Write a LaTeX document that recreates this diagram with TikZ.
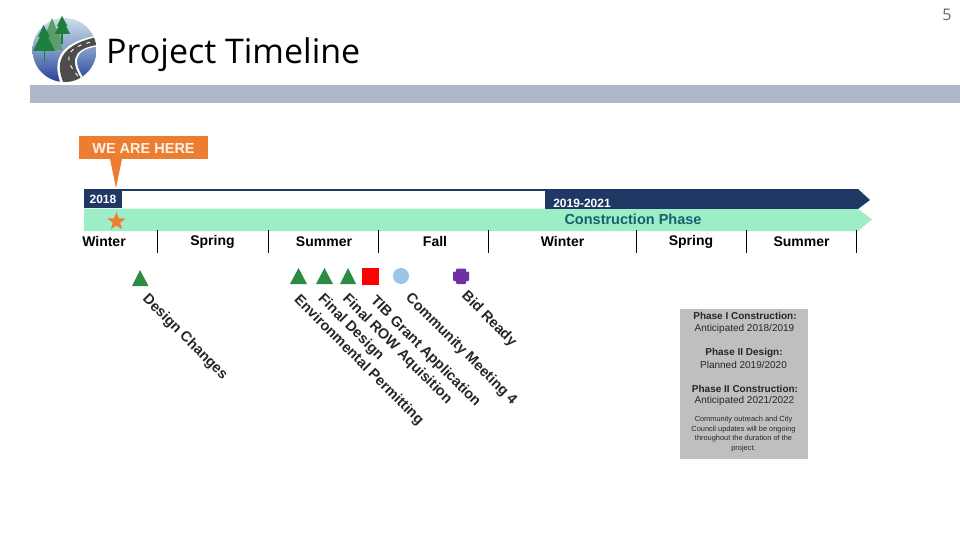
\documentclass[tikz,border=0pt]{standalone}
\usepackage{fontspec}
\setmainfont{Liberation Sans}
\newfontfamily\titlefont{Open Sans}
\usetikzlibrary{shapes.geometric}
\definecolor{band}{HTML}{ADB9CA}
\definecolor{navy}{HTML}{1F3864}
\definecolor{mint}{HTML}{9DEDC6}
\definecolor{orng}{HTML}{ED7D31}
\definecolor{grn}{HTML}{2E8B45}
\definecolor{teal}{HTML}{1B5E70}
\definecolor{ltblue}{HTML}{9DC3E6}
\definecolor{purp}{HTML}{7030A0}
\definecolor{panel}{HTML}{BFBFBF}
\definecolor{treedark}{HTML}{1E7F3C}
\definecolor{treelight}{HTML}{5E9C6A}
\definecolor{skytop}{HTML}{CFDFEA}
\definecolor{skymid}{HTML}{7F9BC6}
\definecolor{skybot}{HTML}{24409A}
\tikzset{
  season/.style={font=\bfseries\fontsize{14}{15}\selectfont,text=black,inner sep=0pt,anchor=center},
  tick/.style={draw=black,line width=1pt},
  mile/.style={font=\bfseries\fontsize{14.5}{15}\selectfont,text=black!85,rotate=-45,anchor=north west,inner sep=0pt},
  tri/.style={fill=grn,draw=none},
  ph/.style={font=\fontsize{10}{11}\selectfont,text=black!85,align=center,inner sep=0pt},
  phb/.style={font=\bfseries\fontsize{10}{11}\selectfont,text=black!85,align=center,inner sep=0pt},
  tree/.style={fill=#1,draw=none}
}
\begin{document}
\begin{tikzpicture}[x=1pt,y=-1pt]
\useasboundingbox (0,0) rectangle (960,540);
% logo
\begin{scope}
\clip (64.5,50) circle (32);
\shade[top color=skytop,bottom color=skybot,middle color=skymid] (32,18) rectangle (97,82);
\fill[white] (61,84) .. controls (54,66) and (53,44) .. (97,35.5) -- (97,46.5) .. controls (72,50) and (72,64) .. (88,84) -- cycle;
\fill[black!70] (64,84) .. controls (56,66) and (56,46) .. (97,37) -- (97,45) .. controls (70,49) and (70,64) .. (85,84) -- cycle;
\draw[white,line width=0.9pt,dash pattern=on 4pt off 5pt] (78,76) .. controls (62,58) and (66,46) .. (97,41);
\end{scope}
\fill[tree=treelight] (52,18) -- (46,33) -- (48,33) -- (43,50) -- (62,50) -- (60,33) -- (58,33) -- cycle;
\fill[tree=treedark] (61,30) rectangle (62.5,44);
\fill[tree=treedark] (62,16) -- (57,26) -- (58.5,26) -- (55,34) -- (70,34) -- (66,26) -- (67.5,26) -- cycle;
\fill[tree=treedark] (43.5,48) rectangle (45,62);
\fill[tree=treedark] (43.5,25) -- (38,37) -- (40,37) -- (33,51) -- (55,51) -- (48,37) -- (50,37) -- cycle;
% header
\node[font=\titlefont\fontsize{34}{34}\selectfont,anchor=west,inner sep=0pt,text=black] (title) at (106,55) {Project Timeline};
\node[font=\titlefont\fontsize{16}{16}\selectfont,text=black!60,inner sep=0pt] (pagenum) at (947,15) {5};
\fill[band] (30,85) rectangle (960,103);
% callout
\fill[orng] (79,136) rectangle (208,159);
\fill[orng] (110,159) -- (122,159) -- (116,188) -- cycle;
\node[font=\bfseries\fontsize{14.5}{15}\selectfont,text=white!90!orng,inner sep=0pt] (here) at (143.5,148.5) {WE ARE HERE};
% timeline bars
\fill[navy] (84,189) rectangle (545,191);
\fill[navy] (84,189) rectangle (122,208);
\fill[navy] (545,189) -- (858,189) -- (870,200) -- (858,209) -- (545,209) -- cycle;
\fill[mint] (84,208.5) -- (545,208.5) -- (545,209) -- (858,209) -- (872,219.5) -- (858,231) -- (84,231) -- cycle;
\node[font=\bfseries\fontsize{12}{12}\selectfont,text=white,inner sep=0pt] (y2018) at (103,199.5) {2018};
\node[font=\bfseries\fontsize{12}{12}\selectfont,text=white,inner sep=0pt] (y2019) at (582,203) {2019-2021};
\node[font=\bfseries\fontsize{14.5}{15}\selectfont,text=teal,inner sep=0pt] (phase) at (633,219.5) {Construction Phase};
\node[star,star points=5,star point ratio=2.4,fill=orng,minimum size=19pt,inner sep=0pt] (star) at (116.5,221.5) {};
% seasons
\draw[tick] (157.5,230) -- (157.5,253);
\draw[tick] (268,230) -- (268,253);
\draw[tick] (378.5,230) -- (378.5,253);
\draw[tick] (488.5,230) -- (488.5,253);
\draw[tick] (636,230) -- (636,253);
\draw[tick] (746,230) -- (746,253);
\draw[tick] (856.5,230) -- (856.5,253);
\node[season] (s1) at (104,241.5) {Winter};
\node[season] (s2) at (212.5,241.5) {Spring};
\node[season] (s3) at (324,241.5) {Summer};
\node[season] (s4) at (435,241.5) {Fall};
\node[season] (s5) at (562.5,241.5) {Winter};
\node[season] (s6) at (691,241.5) {Spring};
\node[season] (s7) at (801.5,241.5) {Summer};
% markers
\fill[tri] (140,270) -- (148.5,286) -- (132,286) -- cycle;
\fill[tri] (298.5,268) -- (307,284) -- (290,284) -- cycle;
\fill[tri] (324.5,268) -- (333,284) -- (316,284) -- cycle;
\fill[tri] (348,268) -- (356,284) -- (340,284) -- cycle;
\node[fill=red,minimum size=17pt,inner sep=0pt] (tib) at (370.5,276.5) {};
\node[circle,fill=ltblue,minimum size=16pt,inner sep=0pt] (comm) at (401,276) {};
\fill[purp,rounded corners=1pt] (456,268.5) rectangle (466,284);
\fill[purp,rounded corners=1pt] (453,271.5) rectangle (469,281);
% labels
\node[mile] (m1) at (149.5,292) {Design Changes};
\node[mile] (m2) at (301,293) {Environmental Permitting};
\node[mile] (m3) at (325,292) {Final Design};
\node[mile] (m4) at (349.5,292) {Final ROW Aquisition};
\node[mile] (m5) at (377.5,294) {TIB Grant Application};
\node[mile] (m6) at (412.5,291) {Community Meeting 4};
\node[mile] (m7) at (468.5,289) {Bid Ready};
% panel
\fill[panel] (680,309) rectangle (808,459);
\node[phb] (p1) at (745,316) {Phase I Construction:};
\node[ph] (p2) at (744.5,328.5) {Anticipated 2018/2019};
\node[phb] (p3) at (744,352.5) {Phase II Design:};
\node[ph] (p4) at (743.5,365) {Planned 2019/2020};
\node[phb] (p5) at (745,389) {Phase II Construction:};
\node[ph] (p6) at (744.5,401) {Anticipated 2021/2022};
\node[ph,font=\fontsize{7.4}{9.5}\selectfont] (p7) at (743.5,434) {Community outreach and City\\Council updates will be ongoing\\throughout the duration of the\\project.};
\end{tikzpicture}
\end{document}
